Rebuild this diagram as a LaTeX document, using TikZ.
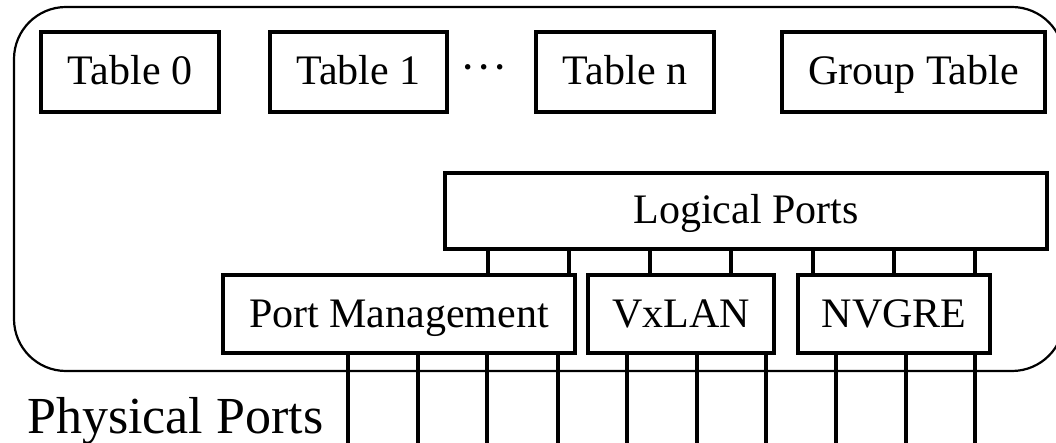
\documentclass[tikz,border=0pt]{standalone}
\usepackage{fontspec}
\setmainfont{Liberation Serif}
\begin{document}
\begin{tikzpicture}[x=1pt,y=-1pt,
  box/.style={draw,line width=4.5pt,inner sep=0pt,minimum height=80pt,
    font=\fontsize{42}{50}\selectfont,text height=34.5pt,text depth=8.5pt},
  wire/.style={line width=3.5pt},
  outer/.style={draw,line width=2.2pt,rounded corners=52pt}]
\useasboundingbox (0,0) rectangle (1056,443);
\draw[outer] (14,7) rectangle (1064,371);
% tables
\node[box,minimum width=178pt] (t0) at (130,72) {Table 0};
\node[box,minimum width=177pt] (t1) at (358.5,72) {Table 1};
\node[inner sep=0pt,anchor=base,font=\fontsize{46}{50}\selectfont] (dots) at (484,83) {·\kern0.5pt·\kern0.5pt·};
\node[box,minimum width=178pt] (tn) at (625,72) {Table n};
\node[box,minimum width=263pt] (gt) at (913.5,72) {Group Table};
% ports
\node[box,minimum width=602pt,minimum height=76pt] (lp) at (746,211) {Logical Ports};
\node[box,minimum width=352pt,minimum height=78pt] (pm) at (399,314) {Port Management};
\node[box,minimum width=186pt,minimum height=78pt] (vx) at (681,314) {VxLAN};
\node[box,minimum width=192pt,minimum height=78pt] (nv) at (894,314) {NVGRE};
\node[anchor=base west,inner sep=0pt,font=\fontsize{52}{60}\selectfont] (phys) at (27,433) {Physical Ports};
% links logical -> lower boxes
\foreach \x/\b [count=\i] in {488/pm,569/pm,650/vx,731/vx,813/nv,894/nv,975/nv}{
  \coordinate (u\i) at (\x,0);
  \draw[wire] (lp.south -| u\i) -- (\b.north -| u\i);
}
% physical ports
\foreach \x/\b [count=\i] in {348/pm,418/pm,487/pm,558/pm,627/vx,697/vx,766/vx,836/nv,906/nv,975/nv}{
  \coordinate (p\i) at (\x,445);
  \draw[wire] (\b.south -| p\i) -- (p\i);
}
\end{tikzpicture}
\end{document}
